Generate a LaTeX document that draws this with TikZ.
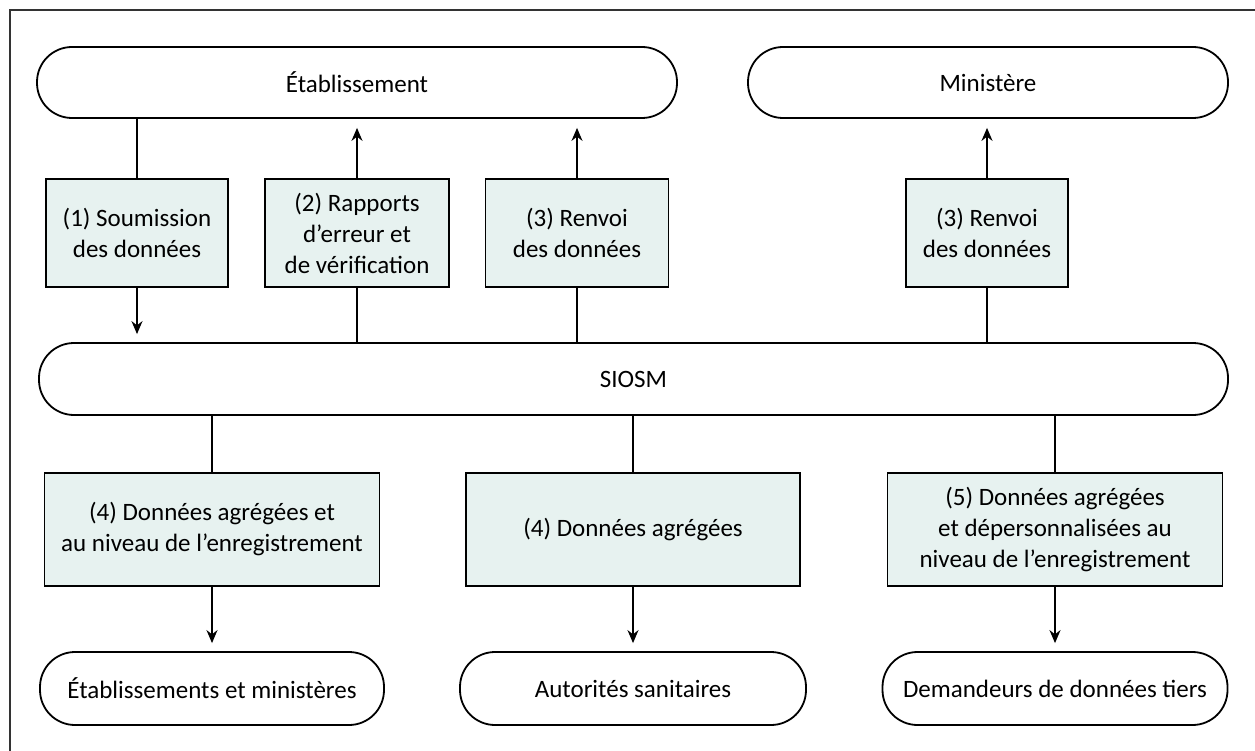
\documentclass[tikz,border=0pt]{standalone}
\usepackage{fontspec}
\setmainfont{Carlito}
\usepackage{tikz}
\usetikzlibrary{arrows.meta}

\definecolor{boxfill}{RGB}{231,242,240}

\begin{document}
\begin{tikzpicture}[x=1pt,y=-1pt,>={Stealth[length=13pt,width=11pt]},
  line width=1.8pt,
  pill node/.style={draw,rectangle,rounded corners=35pt,minimum height=71pt,
    inner sep=0pt,font=\fontsize{25}{31}\selectfont},
  data node/.style={draw,rectangle,fill=boxfill,minimum height=108pt,
    inner sep=0pt,align=center,font=\fontsize{25}{31}\selectfont}]

  \useasboundingbox (0,0) rectangle (1255,751);
  \draw[line width=1.3pt,black!80] (10,751) -- (10,10) -- (1255,10);

  % top row
  \node[pill node,minimum width=640pt] (etab) at (357,82.5) {Établissement};
  \node[pill node,minimum width=480pt] (min) at (988,82.5) {Ministère};

  \node[data node,minimum width=182pt] (b1) at (137,233) {(1) Soumission\\des données};
  \node[data node,minimum width=184pt] (b2) at (357,233) {(2) Rapports\\d’erreur et\\de vérification};
  \node[data node,minimum width=183pt] (b3) at (577,233) {(3) Renvoi\\des données};
  \node[data node,minimum width=162pt] (b4) at (987,233) {(3) Renvoi\\des données};

  \node[pill node,minimum width=1189pt,minimum height=72pt] (siosm) at (633.5,379) {SIOSM};

  % lower row
  \node[data node,minimum width=335pt,minimum height=113pt] (ra) at (212,529.5) {(4) Données agrégées et\\au niveau de l’enregistrement};
  \node[data node,minimum width=334pt,minimum height=113pt] (rb) at (633,529.5) {(4) Données agrégées};
  \node[data node,minimum width=335pt,minimum height=113pt] (rc) at (1055,529.5) {(5) Données agrégées\\et dépersonnalisées au\\niveau de l’enregistrement};

  \node[pill node,minimum width=344pt,minimum height=73pt] (pa) at (212,688.5) {Établissements et ministères};
  \node[pill node,minimum width=346pt,minimum height=73pt] (pb) at (633,688.5) {Autorités sanitaires};
  \node[pill node,minimum width=345pt,minimum height=73pt] (pc) at (1055,688.5) {Demandeurs de données tiers};

  \draw (b1.north |- etab.south) -- (b1.north);
  \draw[->,shorten >=8pt] (b1.south) -- (b1.south |- siosm.north);
  \draw (b2.south) -- (b2.south |- siosm.north);
  \draw[->,shorten >=9pt] (b2.north) -- (b2.north |- etab.south);
  \draw (b3.south) -- (b3.south |- siosm.north);
  \draw[->,shorten >=9pt] (b3.north) -- (b3.north |- etab.south);
  \draw (b4.south) -- (b4.south |- siosm.north);
  \draw[->,shorten >=9pt] (b4.north) -- (b4.north |- min.south);

  \draw (ra.north |- siosm.south) -- (ra.north);
  \draw (rb.north |- siosm.south) -- (rb.north);
  \draw (rc.north |- siosm.south) -- (rc.north);
  \draw[->,shorten >=8pt] (ra.south) -- (ra.south |- pa.north);
  \draw[->,shorten >=8pt] (rb.south) -- (rb.south |- pb.north);
  \draw[->,shorten >=8pt] (rc.south) -- (rc.south |- pc.north);
\end{tikzpicture}
\end{document}
